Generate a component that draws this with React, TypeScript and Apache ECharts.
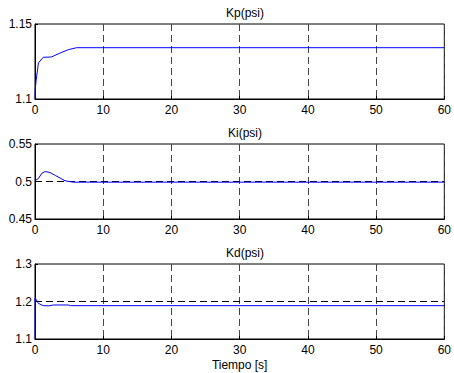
import React, { useEffect, useRef } from "react";
import * as echarts from "echarts";

const xTicks = [0, 10, 20, 30, 40, 50, 60];
const titles = ["Kp(psi)", "Ki(psi)", "Kd(psi)"];
const xLabel = "Tiempo [s]";

const kpT = [0, 0.03, 0.15, 0.5, 1.2, 2.4, 3.7, 4.9, 6.1, 60];
const kpV = [1.1, 1.106, 1.1118, 1.124, 1.1278, 1.128, 1.1307, 1.1329, 1.1342, 1.1342];

const kiT = [0, 0.5, 1.0, 1.5, 2.2, 3.0, 3.8, 4.4, 5.6, 60];
const kiV = [0.501, 0.504, 0.511, 0.5133, 0.512, 0.508, 0.504, 0.501, 0.4991, 0.4991];
const kiRef = 0.5;

const kdT = [0, 0.02, 0.1, 0.5, 1.2, 2.0, 2.7, 4.9, 5.2, 60];
const kdV = [1.1, 1.209, 1.207, 1.195, 1.1889, 1.1885, 1.1907, 1.1907, 1.1889, 1.1889];
const kdRef = 1.2;

const yMins = [1.1, 0.45, 1.1];
const yMaxs = [1.15, 0.55, 1.3];
const yIntervals = [0.05, 0.05, 0.1];

const gridTops = [24, 144, 264];
const GRID_H = 75;
const GRID_L = 35;
const GRID_R = 9;

const FONT = "Liberation Sans, Arial, sans-serif";

export default function App() {
  const ref = useRef<HTMLDivElement>(null);
  useEffect(() => {
    if (!ref.current) return;
    const chart = echarts.init(ref.current, null, { renderer: "svg" });
    const pairs = (t: number[], v: number[]) => t.map((x, i) => [x, v[i]]);
    const grids = gridTops.map((top) => ({
      left: GRID_L,
      right: GRID_R,
      top,
      height: GRID_H,
      show: true,
      borderColor: "#000",
      borderWidth: 1,
      backgroundColor: "#fff",
    }));
    const xAxes = gridTops.map((_, i) => ({
      type: "value",
      gridIndex: i,
      min: xTicks[0],
      max: xTicks[xTicks.length - 1],
      interval: xTicks[1] - xTicks[0],
      axisLine: { show: true, lineStyle: { color: "#000", width: 1 } },
      axisTick: { show: true, inside: true, length: 3, lineStyle: { color: "#000" } },
      axisLabel: { color: "#000", fontSize: 12, fontFamily: FONT, margin: 5 },
      splitLine: { show: true, lineStyle: { color: "#444", type: [7, 4], width: 1 } },
      name: i === 2 ? xLabel : "",
      nameLocation: "middle",
      nameGap: 20,
      nameTextStyle: { color: "#000", fontSize: 12, fontFamily: FONT },
    }));
    const yAxes = gridTops.map((_, i) => ({
      type: "value",
      gridIndex: i,
      min: yMins[i],
      max: yMaxs[i],
      interval: yIntervals[i],
      axisLine: { show: true, lineStyle: { color: "#000", width: 1 } },
      axisTick: { show: true, inside: true, length: 3, lineStyle: { color: "#000" } },
      axisLabel: {
        color: "#000",
        fontSize: 12,
        fontFamily: FONT,
        margin: 3,
        formatter: (v: number) => String(parseFloat(v.toFixed(3))),
      },
      splitLine: { show: false },
    }));
    const blue = (name: string, data: number[][], idx: number) => ({
      name,
      type: "line",
      xAxisIndex: idx,
      yAxisIndex: idx,
      data,
      showSymbol: false,
      symbol: "none",
      lineStyle: { color: "#0000ff", width: 1 },
      z: 3,
    });
    const refLine = (name: string, val: number, idx: number) => ({
      name,
      type: "line",
      xAxisIndex: idx,
      yAxisIndex: idx,
      data: [
        [0, val],
        [60, val],
      ],
      symbol: "none",
      lineStyle: { color: "#000", width: 1, type: [7, 4] },
      z: 2,
    });
    chart.setOption({
      animation: false,
      backgroundColor: "#fff",
      title: titles.map((t, i) => ({
        text: t,
        left: GRID_L + (454 - GRID_L - GRID_R) / 2,
        textAlign: "center",
        top: gridTops[i] - 22,
        textStyle: { color: "#000", fontSize: 12, fontWeight: "normal", fontFamily: FONT },
      })),
      grid: grids,
      xAxis: xAxes,
      yAxis: yAxes,
      series: [
        blue("Kp", pairs(kpT, kpV), 0),
        refLine("Ki ref", kiRef, 1),
        blue("Ki", pairs(kiT, kiV), 1),
        refLine("Kd ref", kdRef, 2),
        blue("Kd", pairs(kdT, kdV), 2),
      ],
    });
    return () => chart.dispose();
  }, []);
  return (
    <div
      ref={ref}
      style={{ position: "absolute", left: 0, top: 0, width: 454, height: 373 }}
    />
  );
}
